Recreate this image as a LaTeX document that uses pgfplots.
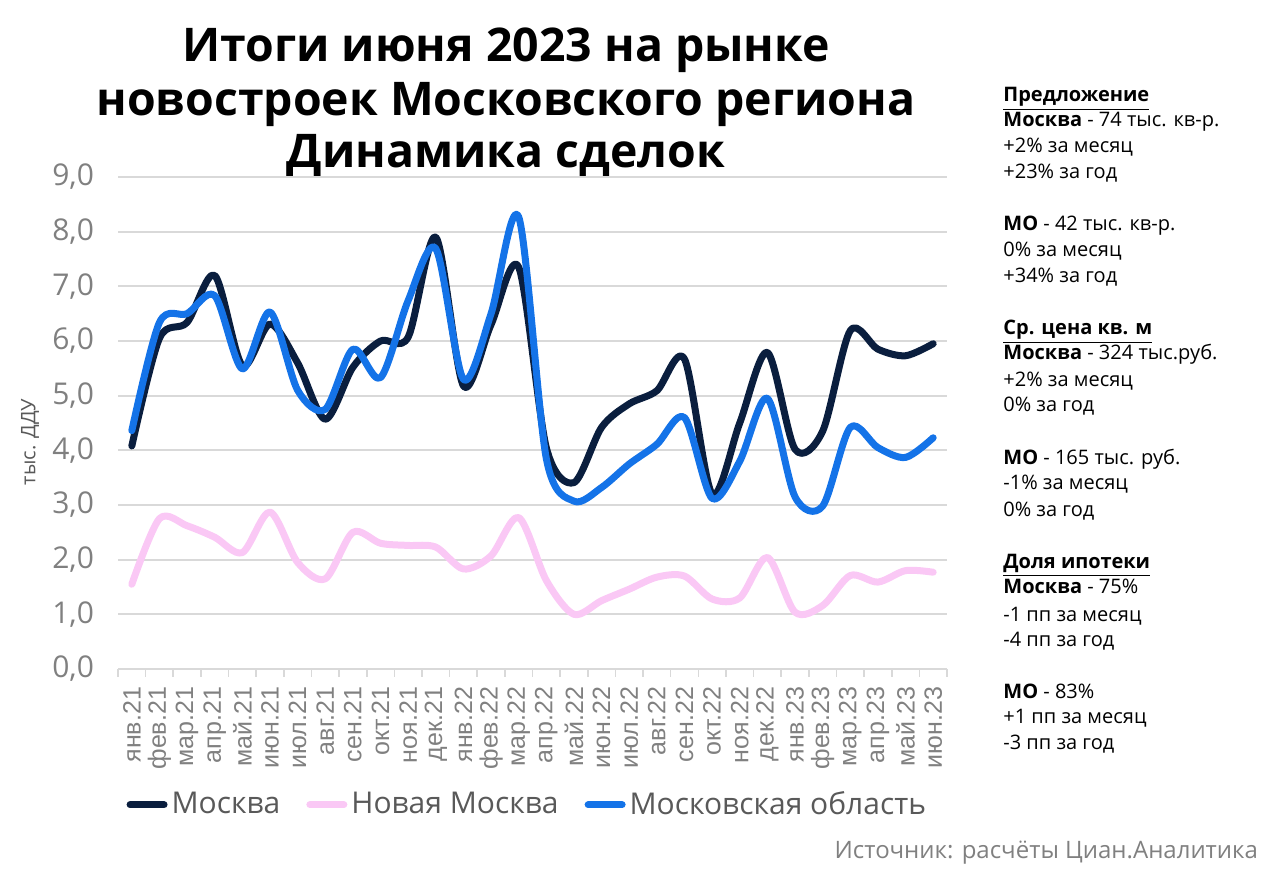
\documentclass[border=0pt]{standalone}
\usepackage{pgfplots}
\pgfplotsset{compat=1.18}
\usepackage{fontspec}
\setmainfont{Open Sans}
\newfontfamily\tickfont{Liberation Sans}
\definecolor{mosc}{RGB}{10,30,62}
\definecolor{novm}{RGB}{250,200,245}
\definecolor{mobl}{RGB}{20,115,232}
\definecolor{tickgray}{RGB}{128,128,128}
\definecolor{gridgray}{RGB}{217,217,217}
\definecolor{leggray}{RGB}{89,89,89}
\begin{document}
\begin{tikzpicture}
\useasboundingbox (0,0) rectangle (640pt,-435pt);
% title
\node[anchor=base, font=\fontsize{23.2}{24}\selectfont\bfseries] at (253pt,-31pt) {Итоги июня 2023 на рынке};
\node[anchor=base, font=\fontsize{23.2}{24}\selectfont\bfseries] at (253pt,-58pt) {новостроек Московского региона};
\node[anchor=base, font=\fontsize{23.2}{24}\selectfont\bfseries] at (253pt,-84pt) {Динамика сделок};
% y label
\node[rotate=90, font=\fontsize{10}{12}\selectfont, text=leggray] at (15pt,-221pt) {тыс. ДДУ};
\begin{axis}[
  at={(59pt,-334.5pt)}, anchor=south west,
  scale only axis, width=414.5pt, height=246pt,
  xmin=-0.5, xmax=29.5, ymin=0, ymax=9,
  clip=false,
  axis x line*=bottom, axis y line*=left,
  x axis line style={draw=gridgray, line width=1pt},
  y axis line style={draw=none},
  ytick={0,1,...,9},
  ytick style={draw=none},
  ymajorgrids, grid style={gridgray, line width=1pt},
  /pgf/number format/.cd, fixed, fixed zerofill, precision=1, use comma, assume math mode=true,
  /pgfplots/.cd,
  yticklabel style={font=\fontsize{15}{15}\selectfont, text=tickgray, xshift=-8.5pt},
  xtick={-0.5,0.5,...,29.5},
  x tick label as interval,
  xticklabels={янв.21,фев.21,мар.21,апр.21,май.21,июн.21,июл.21,авг.21,сен.21,окт.21,ноя.21,дек.21,янв.22,фев.22,мар.22,апр.22,май.22,июн.22,июл.22,авг.22,сен.22,окт.22,ноя.22,дек.22,янв.23,фев.23,мар.23,апр.23,май.23,июн.23},
  xticklabel style={rotate=90, anchor=east, font=\tickfont\fontsize{12.5}{12.5}\selectfont, text=tickgray, xshift=-1.5pt},
  xtick align=outside, major tick length=4pt,
  xtick style={gridgray, line width=0.8pt},
  legend columns=3,
  legend style={at={(0.495,-0.276)}, anchor=center, draw=none, fill=none,
    font=\fontsize{15}{15}\selectfont, text=leggray,
    /tikz/every even column/.append style={column sep=11pt}},
  legend image code/.code={\draw[#1] (0pt,0pt) -- (17pt,0pt);},
]
\addplot[mosc, line width=3.5pt, smooth, line cap=round, line join=round] coordinates {
(0,4.08)(1,6.05)(2,6.34)(3,7.2)(4,5.55)(5,6.31)(6,5.6)(7,4.57)(8,5.52)(9,6.0)
(10,6.07)(11,7.9)(12,5.18)(13,6.3)(14,7.35)(15,4.05)(16,3.41)(17,4.42)(18,4.85)(19,5.09)
(20,5.67)(21,3.2)(22,4.5)(23,5.79)(24,4.02)(25,4.35)(26,6.19)(27,5.85)(28,5.73)(29,5.95)};
\addlegendentry{Москва}
\addplot[novm, line width=3.5pt, smooth, line cap=round, line join=round] coordinates {
(0,1.55)(1,2.75)(2,2.62)(3,2.41)(4,2.13)(5,2.87)(6,1.95)(7,1.65)(8,2.5)(9,2.3)
(10,2.26)(11,2.23)(12,1.83)(13,2.07)(14,2.77)(15,1.62)(16,1.0)(17,1.25)(18,1.46)(19,1.68)
(20,1.7)(21,1.28)(22,1.3)(23,2.04)(24,1.04)(25,1.16)(26,1.71)(27,1.59)(28,1.8)(29,1.77)};
\addlegendentry{Новая Москва}
\addplot[mobl, line width=3.5pt, smooth, line cap=round, line join=round] coordinates {
(0,4.36)(1,6.34)(2,6.5)(3,6.83)(4,5.49)(5,6.53)(6,5.1)(7,4.75)(8,5.85)(9,5.33)
(10,6.74)(11,7.69)(12,5.3)(13,6.5)(14,8.27)(15,3.85)(16,3.07)(17,3.32)(18,3.75)(19,4.11)
(20,4.6)(21,3.12)(22,3.8)(23,4.95)(24,3.15)(25,2.98)(26,4.42)(27,4.05)(28,3.87)(29,4.23)};
\addlegendentry{Московская область}
\end{axis}
% right panel
\begin{scope}[every node/.style={anchor=base west, inner sep=0pt, font=\fontsize{10}{12}\selectfont}]
\node at (501.5pt,-51pt) {\textbf{\underline{Предложение}}};
\node at (501.5pt,-63.5pt) {\textbf{Москва} - 74 тыс. кв-р.};
\node at (501.5pt,-76.5pt) {+2\% за месяц};
\node at (501.5pt,-89.5pt) {+23\% за год};
\node at (501.5pt,-115.5pt) {\textbf{МО} - 42 тыс. кв-р.};
\node at (501.5pt,-128.5pt) {0\% за месяц};
\node at (501.5pt,-141.5pt) {+34\% за год};
\node at (501.5pt,-167.5pt) {\textbf{\underline{Ср. цена кв. м}}};
\node at (501.5pt,-180pt) {\textbf{Москва} - 324 тыс.руб.};
\node at (501.5pt,-193.3pt) {+2\% за месяц};
\node at (501.5pt,-206pt) {0\% за год};
\node at (501.5pt,-232.5pt) {\textbf{МО} - 165 тыс. руб.};
\node at (501.5pt,-245pt) {-1\% за месяц};
\node at (501.5pt,-258.3pt) {0\% за год};
\node at (501.5pt,-284.2pt) {\textbf{\underline{Доля ипотеки}}};
\node at (501.5pt,-297pt) {\textbf{Москва} - 75\%};
\node at (501.5pt,-310.8pt) {-1 пп за месяц};
\node at (501.5pt,-323.3pt) {-4 пп за год};
\node at (501.5pt,-349.2pt) {\textbf{МО} - 83\%};
\node at (501.5pt,-361.7pt) {+1 пп за месяц};
\node at (501.5pt,-375pt) {-3 пп за год};
\end{scope}
\node[anchor=base east, font=\fontsize{12}{12}\selectfont, text=tickgray] at (632.5pt,-429pt) {Источник: расчёты Циан.Аналитика};
\end{tikzpicture}
\end{document}
